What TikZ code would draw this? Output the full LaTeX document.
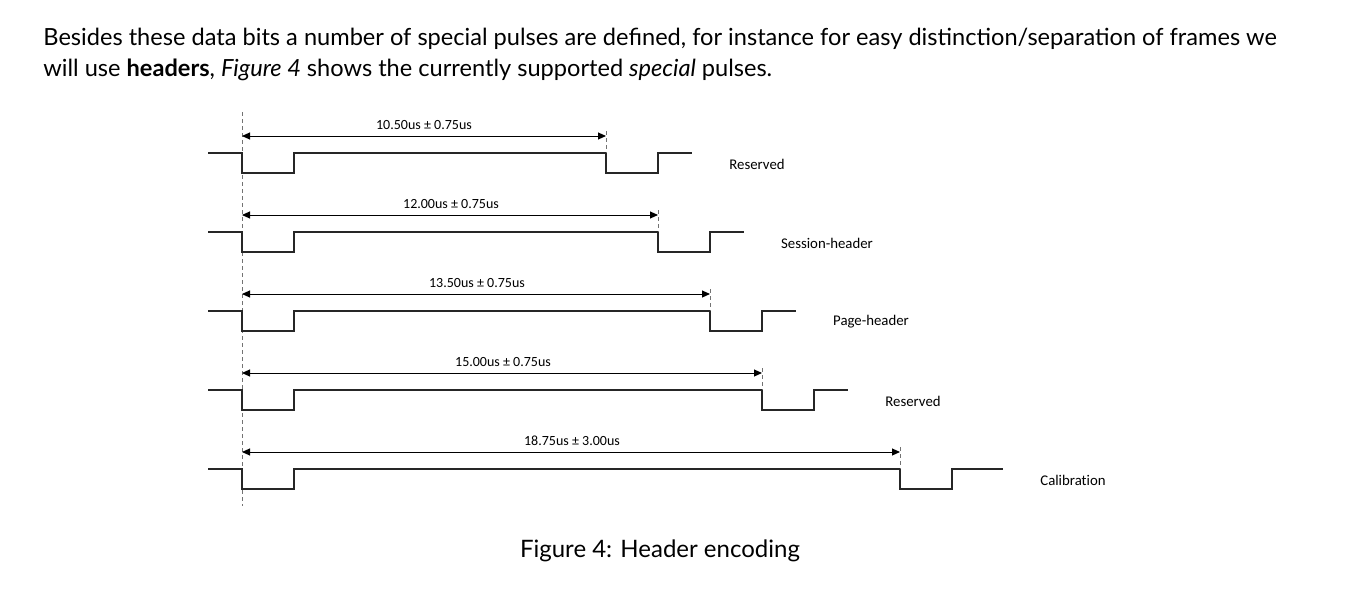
\documentclass[tikz,border=0pt]{standalone}
\usepackage{fontspec}
\setmainfont{Lato}
\newfontfamily\calfont[Ligatures=NoCommon]{Carlito}
\usetikzlibrary{arrows.meta}
\tikzset{
  sig/.style={line width=1pt, black!85},
  guide/.style={line width=0.5pt, black!55, dash pattern=on 2pt off 1.5pt},
  dim/.style={line width=0.5pt, {Triangle[length=4pt,width=3.5pt]}-{Triangle[length=4pt,width=3.5pt]}},
  dimlabel/.style={font=\calfont\fontsize{7pt}{8pt}\selectfont, inner sep=0pt},
  namelabel/.style={font=\calfont\fontsize{7.4pt}{8pt}\selectfont, inner sep=0pt},
  body/.style={font=\fontsize{11.8pt}{15pt}\selectfont, inner sep=0pt, anchor=base west},
  caption/.style={font=\fontsize{12pt}{15pt}\selectfont, inner sep=0pt},
}
\begin{document}
\begin{tikzpicture}[x=0.5pt,y=-0.5pt]
\useasboundingbox (0,0) rectangle (1356,594);
\node[body] (l1) at (43,46) {Besides these data bits a number of special pulses are defined, for instance for easy distinction/separation of frames we};
\node[body] (l2) at (43,76) {will use \textbf{headers}, \textit{Figure 4} shows the currently supported \textit{special} pulses.};
\node[caption] (cap) at (660,551) {Figure 4: Header encoding};
% left guide
\coordinate (gtop) at (242,112);
\coordinate (gbot) at (242,506);
\draw[guide] (gtop) -- (gbot);
% rows
\foreach \i/\e/\tl/\dtxt/\tol/\lab/\lx/\mid in {
  0/606/692/10.50us/0.75us/Reserved/757/424,
  1/658/744/12.00us/0.75us/Session-header/827/451,
  2/710/796/13.50us/0.75us/Page-header/871/477,
  3/762/848/15.00us/0.75us/Reserved/913/503,
  4/900/1003/18.75us/3.00us/Calibration/1073/572}{
  \pgfmathsetmacro{\yh}{153+79*\i}
  \pgfmathsetmacro{\yl}{\yh+20}
  \pgfmathsetmacro{\ya}{\yh-17}
  \pgfmathsetmacro{\yt}{\yh-22}
  \pgfmathsetmacro{\ylab}{\yh-28}
  \pgfmathsetmacro{\ee}{\e+52}
  \coordinate (s\i) at (208,\yh);
  \coordinate (a\i) at (242,\ya);
  \coordinate (b\i) at (\e,\ya);
  \coordinate (t\i) at (\e,\yt);
  \coordinate (h\i) at (\e,\yh);
  \draw[sig] (s\i) -- (242,\yh) -- (242,\yl) -- (294,\yl) -- (294,\yh) -- (h\i) -- (\e,\yl) -- (\ee,\yl) -- (\ee,\yh) -- (\tl,\yh);
  \draw[guide] (t\i) -- (h\i);
  \draw[dim] (a\i) -- (b\i);
  \node[dimlabel] (d\i) at (\mid,\ylab) {\dtxt\ ± \tol};
  \node[namelabel] (n\i) at (\lx,\yh+11) {\lab};
}
\end{tikzpicture}
\end{document}
